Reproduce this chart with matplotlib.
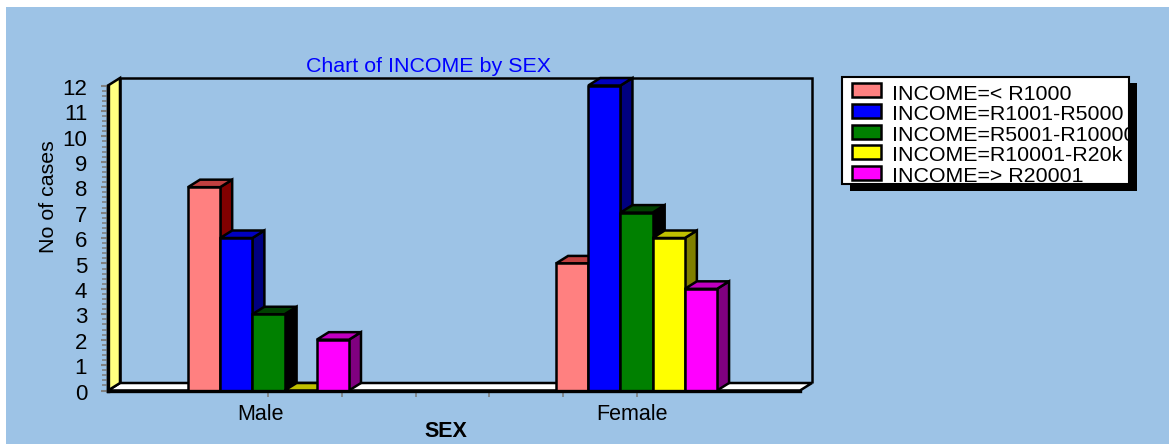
import matplotlib
matplotlib.use('Agg')
import matplotlib.pyplot as plt
from matplotlib.patches import Polygon, Rectangle
from matplotlib.ticker import MultipleLocator
from matplotlib.transforms import ScaledTranslation

plt.rcParams['font.family'] = ['Liberation Sans', 'DejaVu Sans']

sexes = ['Male', 'Female']
income_labels = ['INCOME=< R1000', 'INCOME=R1001-R5000', 'INCOME=R5001-R10000',
                 'INCOME=R10001-R20k', 'INCOME=> R20001']
counts = [[8, 5], [6, 12], [3, 7], [0, 6], [2, 4]]
face_colors = ['#ff8080', '#0000ff', '#008000', '#ffff00', '#ff00ff']
top_colors = ['#c04040', '#0000c0', '#004000', '#c0c000', '#c000c0']
side_colors = ['#800000', '#000080', '#000000', '#808000', '#800080']

W, H = 1169, 444
BG = '#9dc3e6'

fig = plt.figure(figsize=(W / 100, H / 100), dpi=100, facecolor='white')

# full-figure layer in pixels, y pointing down
bg = fig.add_axes([0, 0, 1, 1], zorder=0)
bg.set_xlim(0, W)
bg.set_ylim(H, 0)
bg.axis('off')
bg.add_patch(Rectangle((6, 7), W - 6, H - 7, fc=BG, ec='none'))

left, right, top, bottom = 108, 800, 85.5, 390.5
ax = fig.add_axes([left / W, 1 - bottom / H, (right - left) / W, (bottom - top) / H], zorder=1)
ax.patch.set_alpha(0)
ax.set_xlim(-0.436, 1.444)
ax.set_ylim(0, 12)

# depth of the 3D effect, in data units
px_x = 1.88 / (right - left)
px_y = 12 / (bottom - top)
dx = 12 * px_x
dy = 7.5 * px_y
x0, x1 = ax.get_xlim()
lw = 1.8

# back wall, floor and left wall
ax.add_patch(Polygon([(x0 + dx, dy), (x0 + dx, 12 + dy), (x1 + dx, 12 + dy), (x1 + dx, dy)],
                     closed=False, fc='none', ec='black', lw=lw, clip_on=False, zorder=1))
ax.add_patch(Polygon([(x0, 0), (x0 + dx, dy), (x1 + dx, dy), (x1, 0)],
                     fc='white', ec='black', lw=lw, clip_on=False, zorder=1))
ax.add_patch(Polygon([(x0, 0), (x0, 12), (x0 + dx, 12 + dy), (x0 + dx, dy)],
                     fc='#ffff80', ec='black', lw=lw, clip_on=False, zorder=1))

bar_w = 32.2 * px_x
for i, row in enumerate(counts):
    zo = 3 + i
    for g, val in enumerate(row):
        xl = g + (i - 2.5) * bar_w
        xr = xl + bar_w
        ax.add_patch(Polygon([(xr, 0), (xr + dx, dy), (xr + dx, val + dy), (xr, val)],
                             fc=side_colors[i], ec='black', lw=lw, clip_on=False, zorder=zo))
        ax.add_patch(Polygon([(xl, val), (xl + dx, val + dy), (xr + dx, val + dy), (xr, val)],
                             fc=top_colors[i], ec='black', lw=lw, clip_on=False, zorder=zo))
        ax.bar(xl, val, width=bar_w, align='edge', color=face_colors[i], ec='black', lw=lw,
               clip_on=False, zorder=zo)

for s in ['top', 'right']:
    ax.spines[s].set_visible(False)
for s in ['left', 'bottom']:
    ax.spines[s].set_linewidth(2.4)
    ax.spines[s].set_zorder(10)

ax.yaxis.set_major_locator(MultipleLocator(1))
ax.yaxis.set_minor_locator(MultipleLocator(0.2))
ax.tick_params(axis='y', which='major', length=5, width=1.5, color='#808080', labelsize=16, pad=10)
ax.tick_params(axis='y', which='minor', length=4, width=1.2, color='#808080')
ax.set_xticks([k * 0.2 for k in range(0, 6)])
ax.set_xticklabels([])
ax.tick_params(axis='x', length=4, width=1.2, color='#808080')

# nudge the count labels down a pixel
nudge = ScaledTranslation(0, -1.2 / 100, fig.dpi_scale_trans)
for lab in ax.get_yticklabels():
    lab.set_transform(lab.get_transform() + nudge)

# category names sit a little left of the group centres
for g, name in enumerate(sexes):
    ax.annotate(name, (g, 0), xytext=(-5.5 if g == 0 else -3.2, -9.5), textcoords='offset points',
                ha='center', va='top', fontsize=15.5)

bg.text(48, 197, 'No of cases', rotation=90, fontsize=15.4, ha='center', va='center', zorder=5)
bg.text(428.5, 66, 'Chart of INCOME by SEX', color='#0000ff', fontsize=15.4,
        ha='center', va='center', zorder=5)
bg.text(446, 431.5, 'SEX', fontweight='bold', fontsize=15.5, ha='center', va='center', zorder=5)

# legend box with drop shadow
bg.add_patch(Rectangle((850, 83), 287, 108, fc='black', ec='none', zorder=2))
bg.add_patch(Rectangle((842, 77), 287, 107, fc='white', ec='black', lw=1.5, zorder=3))
for i, label in enumerate(income_labels):
    y = 93 + i * 20.5
    bg.add_patch(Rectangle((852, y - 9.5), 29, 14, fc=face_colors[i], ec='black', lw=1.8, zorder=4))
    bg.text(891.5, y + 1, label, fontsize=15.4, ha='left', va='center', zorder=5)

fig.savefig('out.png', dpi=100)
